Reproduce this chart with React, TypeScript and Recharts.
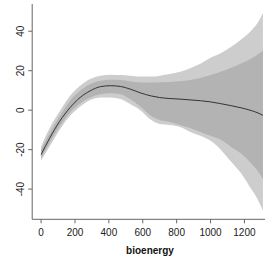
import { ComposedChart, Area, Line, XAxis, YAxis, Label } from 'recharts';

// smooth fit of bioenergy: mean curve with inner and outer confidence bands
const bioenergy = [0, 50, 110, 170, 230, 290, 350, 410, 470, 525, 585, 650, 700, 760, 820, 880, 940, 1000, 1060, 1120, 1180, 1240, 1280, 1309];
const fitMean = [-22.5, -14.3, -5.6, 1.2, 6.4, 9.8, 11.9, 12.4, 12, 10.7, 8.8, 7.2, 6.4, 5.9, 5.6, 5.2, 4.8, 4.2, 3.3, 2.3, 1.2, -0.2, -1.4, -2.6];
const innerHigh = [-20, -11.8, -3, 4.7, 9.8, 13.2, 14.9, 15.4, 15.3, 14.6, 14, 14, 14.1, 14.3, 14.6, 15.3, 16.3, 17.8, 19.5, 21.4, 23.6, 26.2, 28.3, 30.2];
const innerLow = [-24.5, -16.6, -8.2, -1.3, 3.4, 6.4, 8.1, 8.6, 8.1, 5.6, 1.8, -3, -5, -6, -7.5, -9, -11, -13, -15, -18.5, -22, -27, -31, -35];
const outerHigh = [-18.5, -9.2, -0.6, 7.2, 12.4, 15.8, 17.5, 18, 17.8, 17.5, 17, 17, 17.5, 18.3, 19.5, 21.3, 23.5, 26.5, 28.8, 32, 35.8, 40.3, 44.5, 49.3];
const outerLow = [-25.5, -18.4, -9.9, -3, 1.7, 5.1, 6.4, 6.4, 5.6, 3.1, 0, -5, -7, -7.5, -8.5, -11, -13, -15.5, -20, -26, -32, -40, -45.5, -51];

const xTicks = [0, 200, 400, 600, 800, 1000, 1200];
const yTicks = [-40, -20, 0, 20, 40];

const data = bioenergy.map((x, i) => ({
  x,
  mean: fitMean[i],
  inner: [innerLow[i], innerHigh[i]],
  outer: [outerLow[i], outerHigh[i]],
}));

const font = '"Liberation Sans", Arial, sans-serif';
const axisColor = '#666';

const XTick = ({ x, y, payload }: any) => (
  <text x={x} y={y + 11} textAnchor="middle" fontSize={10} fontFamily={font} fill="#222">
    {payload.value}
  </text>
);

const YTick = ({ x, y, payload }: any) => (
  <text
    x={x - 2}
    y={y}
    textAnchor="middle"
    fontSize={10}
    fontFamily={font}
    fill="#222"
    transform={`rotate(-90, ${x - 2}, ${y})`}
  >
    {payload.value}
  </text>
);

export default function App() {
  return (
    <div style={{ position: 'fixed', left: 0, top: 0, width: 265, height: 262, overflow: 'hidden', background: '#fff' }}>
      <ComposedChart width={280} height={262} data={data} margin={{ top: 4, right: 8.2, left: 0, bottom: 0 }}>
        <XAxis
          dataKey="x"
          type="number"
          domain={[-52.4, 1361.4]}
          ticks={xTicks}
          interval={0}
          allowDataOverflow
          height={42.7}
          tickSize={4}
          tick={<XTick />}
          stroke={axisColor}
        >
          <Label
            value="bioenergy"
            position="insideBottom"
            offset={8}
            dx={-2}
            style={{ fontFamily: font, fontSize: 10, fontWeight: 'bold', fill: '#111' }}
          />
        </XAxis>
        <XAxis xAxisId="top" orientation="top" dataKey="x" type="number" domain={[-52.4, 1361.4]} height={0} tick={false} tickLine={false} stroke={axisColor} />
        <YAxis
          type="number"
          domain={[-55.3, 53.8]}
          ticks={yTicks}
          interval={0}
          allowDataOverflow
          width={32.2}
          tickSize={4}
          tick={<YTick />}
          stroke={axisColor}
        />
        <Area type="monotone" dataKey="outer" stroke="none" fill="#cdcdcd" fillOpacity={1} isAnimationActive={false} />
        <Area type="monotone" dataKey="inner" stroke="none" fill="#b3b3b3" fillOpacity={1} isAnimationActive={false} />
        <Line type="monotone" dataKey="mean" stroke="#333" strokeWidth={1} dot={false} isAnimationActive={false} />
      </ComposedChart>
    </div>
  );
}
